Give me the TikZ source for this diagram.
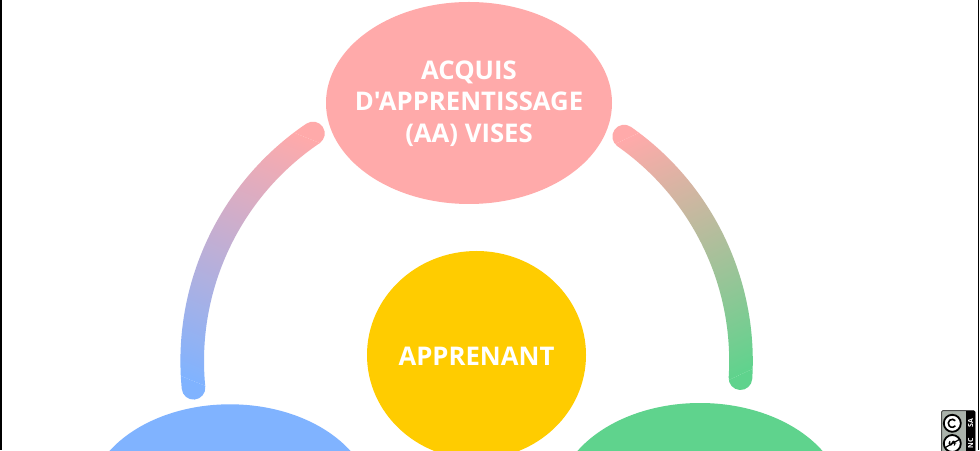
\documentclass[tikz,border=0pt]{standalone}
\usepackage{fontspec}
\setmainfont{Open Sans}[Ligatures=TeXOff]
\usetikzlibrary{calc,shapes.geometric}
\definecolor{cpink}{HTML}{FFAAAA}
\definecolor{cblue}{HTML}{80B3FF}
\definecolor{cgreen}{HTML}{5FD38D}
\definecolor{cyellow}{HTML}{FFCC00}
\definecolor{cbadge}{HTML}{AAB2AB}
\tikzset{
  blob/.style={ellipse,fill=#1,inner sep=0pt},
  labeltext/.style={text=white,font=\bfseries\fontsize{25.7}{31.6}\selectfont,align=center,inner sep=0pt},
  ccring/.style={draw=black,line width=1.8pt,fill=white,circle,minimum size=17pt,inner sep=0pt},
  cctext/.style={text=white,font=\bfseries\fontsize{7}{7}\selectfont,rotate=90,inner sep=0pt},
}
\begin{document}
\begin{tikzpicture}[x=1pt,y=1pt]
\useasboundingbox (0,0) rectangle (980,450);
\fill[white] (0,0) rectangle (980,450);
\fill[black] (0,0) rectangle (1.5,450);
\fill[black] (977.5,0) rectangle (979,450);
\coordinate (hub) at (467,89);
% left connector
\begin{scope}
  \clip ($(hub)+(124.1:286.6)$) arc[start angle=124.1,end angle=185.6,radius=286.6]
    arc[start angle=185.6,delta angle=180,radius=11.8]
    arc[start angle=185.6,end angle=124.1,radius=263]
    arc[start angle=304.1,delta angle=180,radius=11.8] -- cycle;
  \begin{scope}[transform canvas={rotate around={-22:(254,189)}}]
    \fill[cpink] (54,323) rectangle (454,370);
    \fill[cblue] (54,55) rectangle (454,10);
    \shade[top color=cpink,bottom color=cblue] (54,55) rectangle (454,323);
  \end{scope}
\end{scope}
% right connector
\begin{scope}
  \clip ($(hub)+(55:262.2)$) arc[start angle=55,end angle=-3.6,radius=262.2]
    arc[start angle=176.4,delta angle=180,radius=11.8]
    arc[start angle=-3.6,end angle=55,radius=285.8]
    arc[start angle=55,delta angle=180,radius=11.8] -- cycle;
  \begin{scope}[transform canvas={rotate around={25:(680.5,192)}}]
    \fill[cpink] (480,323) rectangle (880,370);
    \fill[cgreen] (480,61) rectangle (880,10);
    \shade[top color=cpink,bottom color=cgreen] (480,61) rectangle (880,323);
  \end{scope}
\end{scope}
% blobs
\node[blob=cpink,minimum width=286pt,minimum height=202pt] (aa) at (469,347) {};
\node[labeltext] (aatext) at (469,346.6) {ACQUIS\\D'APPRENTISSAGE\\(AA) VISES};
\node[blob=cyellow,minimum width=219pt,minimum height=208pt] (app) at (476.5,95) {};
\node[labeltext] (apptext) at (476.5,94) {APPRENANT};
\begin{scope}
\clip (0,0) rectangle (980,450);
\node[blob=cblue,minimum width=286pt,minimum height=202pt] (bl) at (230,-55.3) {};
\node[blob=cgreen,minimum width=288pt,minimum height=202pt] (gr) at (700,-54) {};
\fill[cbadge,draw=black!70,line width=1pt,rounded corners=1.5pt] (941.5,-5) rectangle (975,39.5);
\fill[black] (965.7,-5) rectangle (975,39.5);
\node[ccring] (sa) at (952.3,26.7) {};
\node[ccring] (nc) at (952.3,6.5) {};
\draw[line width=1.6pt] (sa)++(40:4pt) arc[start angle=40,end angle=320,radius=4pt];
\node[cctext] (satext) at (970.5,26.7) {SA};
\node[cctext] (nctext) at (970.5,6.5) {NC};
\node[rotate=90,inner sep=0pt,font=\bfseries\fontsize{10}{10}\selectfont] (ncs) at (nc) {\$};
\draw[line width=1.2pt] ($(nc)+(-7,-4)$) -- ($(nc)+(7,4)$);
\end{scope}
\end{tikzpicture}
\end{document}
